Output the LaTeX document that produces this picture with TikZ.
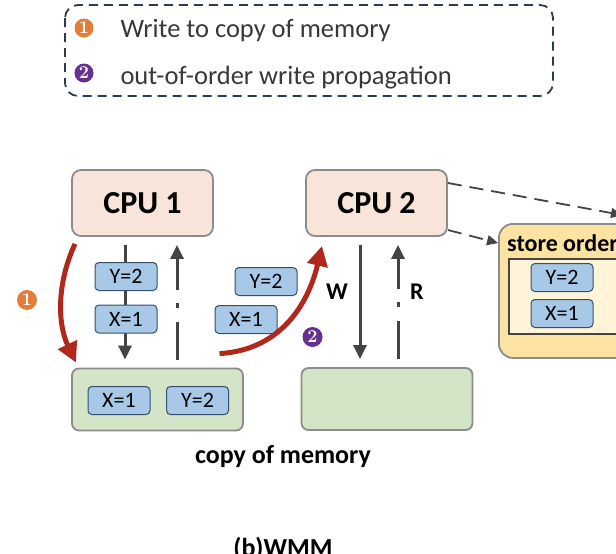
\documentclass[tikz,border=0pt]{standalone}
\usepackage{fontspec}
\newfontfamily\carlito{Carlito}
\usetikzlibrary{arrows.meta,positioning}
\definecolor{cpufill}{HTML}{F8E4D9}
\definecolor{memfill}{HTML}{D3E5C6}
\definecolor{valfill}{HTML}{A8C8E8}
\definecolor{valedge}{HTML}{34506E}
\definecolor{boxgray}{HTML}{8C8C8C}
\definecolor{wiregray}{HTML}{444444}
\definecolor{flowred}{HTML}{B0281C}
\definecolor{storefill}{HTML}{FCE3A2}
\definecolor{orderfill}{HTML}{FFF3D8}
\definecolor{legendedge}{HTML}{2E3A52}
\definecolor{numorange}{HTML}{E27D3A}
\definecolor{numpurple}{HTML}{66308E}

\begin{document}
\begin{tikzpicture}[x=1pt,y=-1pt,
    cpu/.style={draw=boxgray,line width=1.8pt,fill=cpufill,rounded corners=9pt,minimum width=141pt,minimum height=66pt,font=\carlito\fontsize{32}{32}\selectfont\bfseries},
    mem/.style={draw=boxgray,line width=1.8pt,fill=memfill,rounded corners=7pt,minimum width=171pt,minimum height=62pt},
    val/.style={draw=valedge,line width=1pt,fill=valfill,rounded corners=4pt,minimum width=62pt,minimum height=28pt,inner sep=0pt,font=\carlito\fontsize{22}{22}\selectfont},
    wire/.style={draw=wiregray,line width=3pt,-{Triangle[length=14pt,width=13pt]}},
    back/.style={wire,dash pattern=on 38pt off 14pt on 5pt off 13pt on 300pt},
    flow/.style={draw=flowred,line width=5pt,-{Triangle[length=20pt,width=20pt]}},
    link/.style={draw=wiregray,line width=1.8pt,dash pattern=on 14pt off 8pt,-{Triangle[length=11pt,width=10pt]}},
    badge/.style={circle,fill=#1,minimum size=20pt,inner sep=0pt,text=white,font=\fontsize{18}{18}\selectfont\bfseries},
    lbl/.style={font=\carlito\fontsize{24}{24}\selectfont\bfseries},
    legendtext/.style={anchor=base west,font=\carlito\fontsize{26.5}{26.5}\selectfont,text=black!78}]
    \clip (0,0) rectangle (616,554);
    \useasboundingbox (0,0) rectangle (616,554);

    % legend
    \draw[legendedge,line width=1.8pt,dash pattern=on 9pt off 6pt,rounded corners=13pt] (65,5) rectangle (553,96);
    \node[badge=numorange,minimum size=19pt] (leg1) at (84,28) {1};
    \node[legendtext] (legtext1) at (117,37) {Write to copy of memory};
    \node[badge=numpurple,minimum size=19pt] (leg2) at (84,73) {2};
    \node[legendtext] (legtext2) at (117,84) {out-of-order write propagation};

    % cpus and memory copies
    \node[cpu] (cpu1) at (142.5,203) {CPU 1};
    \node[cpu] (cpu2) at (376.5,203) {CPU 2};
    \node[mem] (mem1) at (157.5,399.5) {};
    \node[mem] (mem2) at (387,399) {};

    % store order buffer
    \node[draw=boxgray,line width=1.8pt,fill=storefill,rounded corners=14pt,anchor=north west,minimum width=170pt,minimum height=134pt] (store) at (498,223) {};
    \node[draw=wiregray,line width=1.5pt,fill=orderfill,anchor=north west,minimum width=150pt,minimum height=75pt] (order) at (508,258) {};
    \node[lbl,anchor=base west,inner sep=0pt] (storelbl) at (507,251) {store order};
    \node[val] (sy) at (562,277.5) {Y=2};
    \node[val] (sx) at (562,313.5) {X=1};

    \coordinate (offedge) at (622,215);
    \draw[link] ([yshift=20pt]cpu2.east) -- (offedge);
    \draw[link] ([yshift=-27pt]cpu2.east) -- ([yshift=-20pt]store.north west);

    % read / write wires
    \draw[wire] ([xshift=-17.5pt,yshift=-8pt]cpu1.south) -- ([xshift=-32.5pt,yshift=8pt]mem1.north);
    \draw[back] ([xshift=19.5pt,yshift=8pt]mem1.north) -- ([xshift=34.5pt,yshift=-8pt]cpu1.south);
    \draw[wire] ([xshift=-16.5pt,yshift=-8pt]cpu2.south) -- ([xshift=-27pt,yshift=8pt]mem2.north);
    \draw[back] ([xshift=11pt,yshift=8pt]mem2.north) -- ([xshift=21.5pt,yshift=-8pt]cpu2.south);
    \node[lbl] (wlbl) at (337,292) {W};
    \node[lbl] (rlbl) at (417,292) {R};

    % values
    \node[val] (y1) at (126,276.5) {Y=2};
    \node[val] (x1) at (126,319) {X=1};
    \node[val] (my) at (197.5,400.5) {Y=2};
    \node[val] (mx) at (119,400.5) {X=1};
    \node[val] (py) at (266,281.5) {Y=2};
    \node[val] (px) at (246,319.5) {X=1};

    % propagation arrows
    \draw[flow] ([xshift=-67.5pt,yshift=-7pt]cpu1.south) .. controls (56,285) and (58,325) .. ([xshift=-81.5pt,yshift=5pt]mem1.north);
    \draw[flow] ([xshift=62pt,yshift=14pt]mem1.north) .. controls (280,350) and (308,305) .. ([xshift=-54.5pt,yshift=-9pt]cpu2.south);
    \node[badge=numorange] (n1) at (27,300) {1};
    \node[badge=numpurple] (n2) at (312.5,337) {2};

    % captions
    \node[lbl,font=\carlito\fontsize{26}{26}\selectfont\bfseries,anchor=base] (caption) at (283,463) {copy of memory};
    \node[lbl,font=\carlito\fontsize{26}{26}\selectfont\bfseries,anchor=base] (title) at (283,556) {(b)WMM};
\end{tikzpicture}
\end{document}
